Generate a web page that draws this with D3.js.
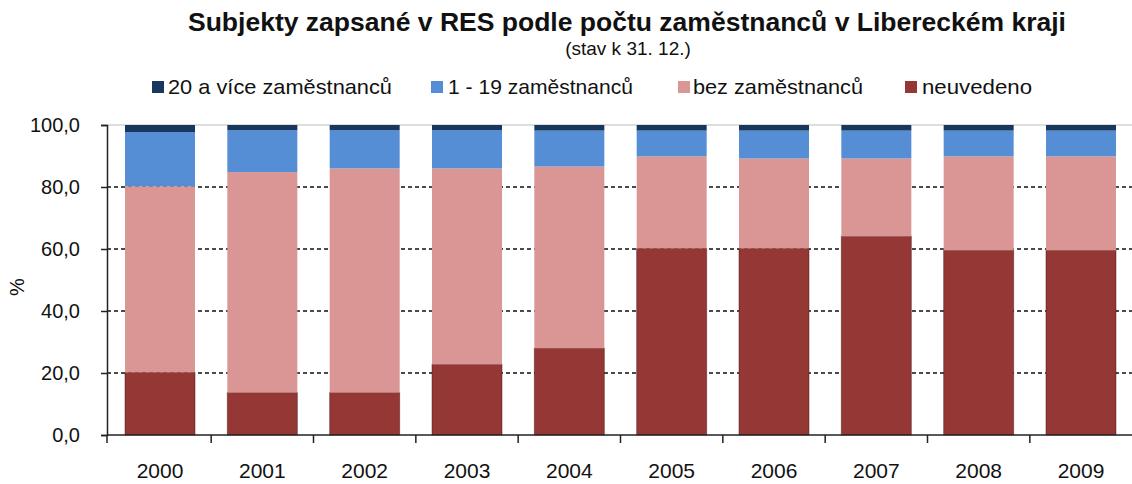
<!DOCTYPE html>
<html>
<head>
<meta charset="utf-8">
<script src="https://cdn.jsdelivr.net/npm/d3@7"></script>
<style>
  html, body { margin: 0; padding: 0; background: #fff; }
  svg { display: block; font-family: "Liberation Sans", Arial, sans-serif; }
</style>
</head>
<body>
<svg id="chart" width="1132" height="484"></svg>
<script>
// ---- data ----
const years = ["2000","2001","2002","2003","2004","2005","2006","2007","2008","2009"];
const neuvedeno = [20.2, 13.7, 13.7, 22.8, 28.0, 60.2, 60.2, 64.1, 59.6, 59.6];
const bezZam    = [60.0, 71.1, 72.3, 63.2, 58.6, 29.7, 29.0, 25.1, 30.3, 30.3];
const zam1to19  = [17.5, 13.5, 12.3, 12.3, 11.6,  8.3,  9.0,  9.0,  8.3,  8.3];
const zam20plus = [ 2.3,  1.7,  1.7,  1.7,  1.8,  1.8,  1.8,  1.8,  1.8,  1.8];
const seriesNames = ["20 a více zaměstnanců", "1 - 19 zaměstnanců", "bez zaměstnanců", "neuvedeno"];
const yTicks = [0, 20, 40, 60, 80, 100];
const titleText = "Subjekty zapsané v RES podle počtu zaměstnanců v Libereckém kraji";
const subtitleText = "(stav k 31. 12.)";
const yAxisLabel = "%";

// ---- build table ----
const table = years.map((y, i) => ({
  year: y,
  neuvedeno: neuvedeno[i],
  bez: bezZam[i],
  mid: zam1to19[i],
  big: zam20plus[i]
}));
const keys = ["neuvedeno", "bez", "mid", "big"];
const colors = { big: "#17375E", mid: "#558ED5", bez: "#D99694", neuvedeno: "#953735" };
const strokes = { big: "none", mid: "none", bez: "none", neuvedeno: "rgba(60,15,15,0.45)" };

const svg = d3.select("#chart");

// ---- scales ----
const x = d3.scaleBand().domain(years).range([107, 1134]).paddingInner(0.316).paddingOuter(0.176);
const y = d3.scaleLinear().domain([0, 100]).range([435, 125]);
const locale = d3.formatLocale({ decimal: ",", thousands: " ", grouping: [3], currency: ["", ""] });
const fmt = locale.format(".1f");

// ---- gridlines ----
svg.append("g").selectAll("line").data(yTicks.filter(t => t > 0 && t < 100)).join("line")
  .attr("x1", 107).attr("x2", 1132)
  .attr("y1", d => y(d)).attr("y2", d => y(d))
  .attr("stroke", "#111").attr("stroke-width", 1.3)
  .attr("stroke-dasharray", "4,3");
svg.append("line")
  .attr("x1", 107).attr("x2", 1132).attr("y1", y(100)).attr("y2", y(100))
  .attr("stroke", "#bdbdbd").attr("stroke-width", 1.2);

// ---- bars ----
const stacked = d3.stack().keys(keys)(table);
svg.append("g").selectAll("g").data(stacked).join("g")
  .attr("fill", d => colors[d.key])
  .attr("stroke", d => strokes[d.key])
  .attr("stroke-width", 1)
  .selectAll("rect").data(d => d).join("rect")
  .attr("x", d => x(d.data.year))
  .attr("width", x.bandwidth())
  .attr("y", d => y(d[1]))
  .attr("height", d => y(d[0]) - y(d[1]));

// ---- y axis ----
const yAxis = d3.axisLeft(y).tickValues(yTicks).tickSize(6).tickPadding(21).tickFormat(d => fmt(d));
const gy = svg.append("g").attr("transform", "translate(107,0)").call(yAxis);
gy.select(".domain").attr("stroke", "#222").attr("stroke-width", 1.5);
gy.selectAll(".tick line").attr("stroke", "#222").attr("stroke-width", 1.5);
gy.selectAll(".tick text").attr("font-size", 20).attr("fill", "#111")
  .attr("font-family", "'Liberation Sans', Arial, sans-serif");

svg.append("text")
  .attr("transform", "translate(24,287) rotate(-90)")
  .attr("text-anchor", "middle")
  .attr("font-size", 20).attr("fill", "#111")
  .text(yAxisLabel);

// ---- x axis ----
const step = x.step();
const boundaries = [107].concat(years.slice(0, -1).map(yv => x(yv) + x.bandwidth() + step * x.paddingInner() / 2));
const gx = svg.append("g");
gx.append("line").attr("x1", 107).attr("x2", 1132).attr("y1", 435).attr("y2", 435)
  .attr("stroke", "#222").attr("stroke-width", 1.5);
gx.selectAll("line.tk").data(boundaries).join("line").attr("class", "tk")
  .attr("x1", d => d).attr("x2", d => d).attr("y1", 435).attr("y2", 443)
  .attr("stroke", "#222").attr("stroke-width", 1.5);
gx.selectAll("text").data(years).join("text")
  .attr("x", d => x(d) + x.bandwidth() / 2)
  .attr("y", 478)
  .attr("text-anchor", "middle")
  .attr("font-size", 21).attr("fill", "#111")
  .text(d => d);

// ---- title ----
svg.append("text")
  .attr("x", 188).attr("y", 30.5)
  .attr("font-size", 25).attr("font-weight", "bold").attr("fill", "#111")
  .attr("textLength", 878).attr("lengthAdjust", "spacingAndGlyphs")
  .text(titleText);
svg.append("text")
  .attr("x", 628).attr("y", 55)
  .attr("text-anchor", "middle")
  .attr("font-size", 19).attr("fill", "#111")
  .text(subtitleText);

// ---- legend ----
const legendItems = [
  { name: seriesNames[0], key: "big", sx: 152, tx: 168, w: 224 },
  { name: seriesNames[1], key: "mid", sx: 431, tx: 448, w: 185 },
  { name: seriesNames[2], key: "bez", sx: 678, tx: 693, w: 170 },
  { name: seriesNames[3], key: "neuvedeno", sx: 905, tx: 922, w: 110 }
];
const lg = svg.append("g");
lg.selectAll("rect").data(legendItems).join("rect")
  .attr("x", d => d.sx).attr("y", 81).attr("width", 12).attr("height", 12)
  .attr("fill", d => colors[d.key]);
lg.selectAll("text").data(legendItems).join("text")
  .attr("x", d => d.tx).attr("y", 94)
  .attr("font-size", 21).attr("fill", "#111")
  .attr("textLength", d => d.w).attr("lengthAdjust", "spacingAndGlyphs")
  .text(d => d.name);
</script>
</body>
</html>
